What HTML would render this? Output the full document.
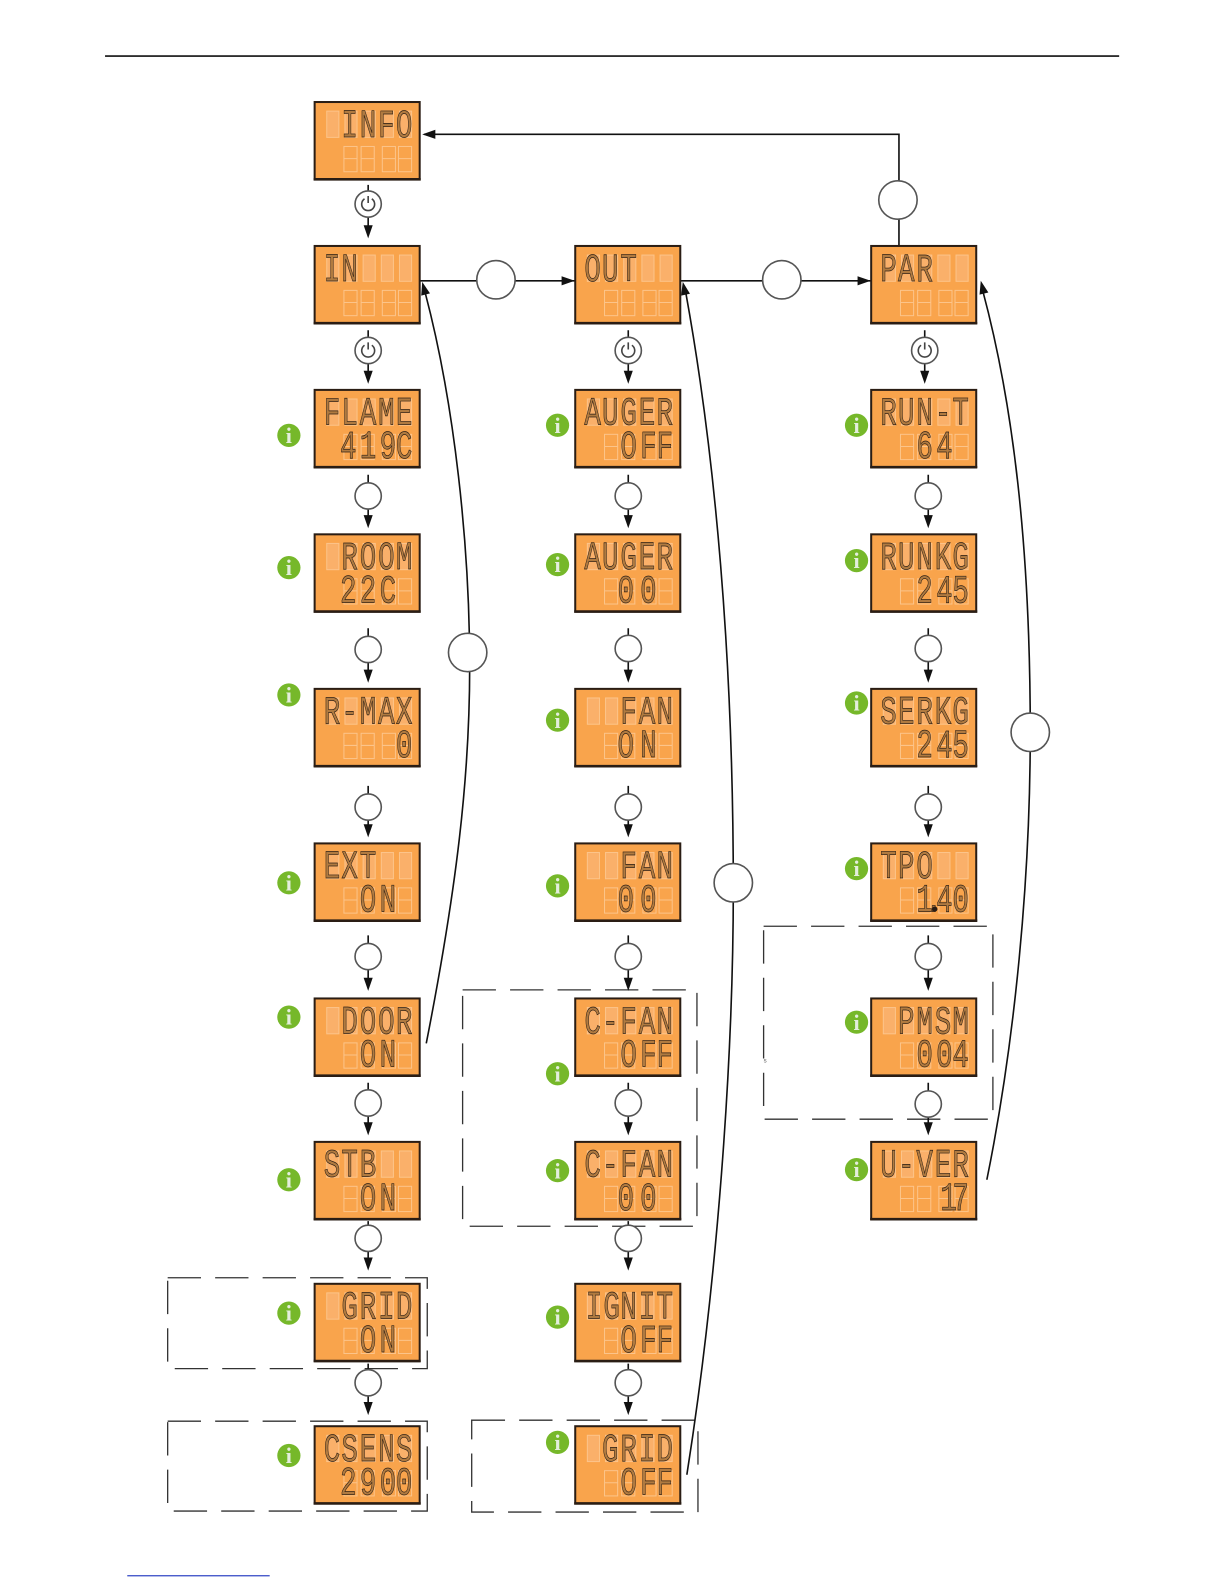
<!DOCTYPE html>
<html><head><meta charset="utf-8"><style>
html,body{margin:0;padding:0;background:#fff;width:1224px;height:1584px;overflow:hidden}
svg{display:block}
.t{font-family:"Liberation Mono",monospace;font-size:39px;fill:#b07a40;stroke:#2a1d14;stroke-width:.7;text-anchor:middle;transform:translate(-1px,-.5px) scale(.7,1)}
.i{font-family:"Liberation Serif",serif;font-size:22px;font-weight:bold;fill:#e4eedd;text-anchor:middle}
.s{font-family:"Liberation Sans",sans-serif;font-size:6px;fill:#555}
</style></head><body>
<svg width="1224" height="1584" viewBox="0 0 1211.8 1568.2" xmlns="http://www.w3.org/2000/svg">
<defs>
<g id="d">
<rect x="0" y="0" width="104" height="76.5" fill="#f9a44c" stroke="#2a1d14" stroke-width="2"/>
<path d="M-1 76.5H105" stroke="#2a1d14" stroke-width="2.6"/>
<g fill="#fab06a" stroke="#fcc48a" stroke-width="1">
<rect x="12" y="9" width="12" height="26"/><rect x="30" y="9" width="12" height="26"/><rect x="48" y="9" width="12" height="26"/><rect x="66" y="9" width="12" height="26"/><rect x="84" y="9" width="12" height="26"/>
</g>
<g fill="none" stroke="#fcc48a" stroke-width="1">
<rect x="29" y="44" width="13" height="25"/><rect x="46" y="44" width="13" height="25"/><rect x="67" y="44" width="13" height="25"/><rect x="83" y="44" width="13" height="25"/>
<path d="M29 56h13M46 56h13M67 56h13M83 56h13"/>
</g>
</g>
<path id="a" d="M-4.5 -13H4.5L0 0z" fill="#111"/>
<g id="c"><circle r="13" fill="#fff" stroke="#555" stroke-width="1.6"/></g>
<g id="p"><circle r="13" fill="#fff" stroke="#555" stroke-width="1.6"/><path d="M-3.6 -5.2A6.4 6.4 0 1 0 3.6 -5.2M0 -8V-1" fill="none" stroke="#444" stroke-width="1.6"/></g>
<g id="b"><circle r="19" fill="#fff" stroke="#555" stroke-width="1.6"/></g>
<g id="n"><circle r="11.5" fill="#76b82a"/><text class="i" y="7.5">i</text></g>
</defs>

<path d="M104 55.5H1108" stroke="#111" stroke-width="1.6"/>
<path d="M126 1560H267" stroke="#3347c4" stroke-width="1.2"/>

<g fill="none" stroke="#333" stroke-width="1.3" stroke-dasharray="33 14">
<rect x="166" y="1265" width="257" height="90"/>
<rect x="166" y="1407" width="257" height="89"/>
<rect x="458" y="980" width="232" height="234"/>
<rect x="467" y="1406" width="224" height="91"/>
<rect x="756" y="917" width="227" height="191"/>
</g>
<text class="s" x="756" y="1052">s</text>

<g fill="none" stroke="#111" stroke-width="1.6">
<path d="M416 278H569M674 278H862M890 243V133H420"/>
<path d="M364.5 183V226M364.5 327V370M364.5 470V513M364.5 622V666M364.5 778V819M364.5 926V971M364.5 1072V1114M364.5 1209V1248M364.5 1350V1390"/>
<path d="M622 327V370M622 470V513M622 622V666M622 778V819M622 926V971M622 1072V1114M622 1209V1248M622 1350V1390"/>
<path d="M915.5 327V370M919 470V513M919 622V666M919 778V819M919 926V971M919 1072V1114"/>
<path d="M422 1033C452 880 465 770 465 660C465 540 450 400 421 290"/>
<path d="M680 1460C710 1270 726 1050 726 880C726 650 708 450 679 290"/>
<path d="M977 1168C1005 1030 1020 870 1020 725C1020 540 1003 400 973 288"/>
</g>

<use href="#a" transform="translate(364.5 236)"/><use href="#a" transform="translate(364.5 380)"/><use href="#a" transform="translate(364.5 523)"/><use href="#a" transform="translate(364.5 676)"/><use href="#a" transform="translate(364.5 829)"/><use href="#a" transform="translate(364.5 981)"/><use href="#a" transform="translate(364.5 1124)"/><use href="#a" transform="translate(364.5 1258)"/><use href="#a" transform="translate(364.5 1401)"/>
<use href="#a" transform="translate(622 380)"/><use href="#a" transform="translate(622 523)"/><use href="#a" transform="translate(622 676)"/><use href="#a" transform="translate(622 829)"/><use href="#a" transform="translate(622 981)"/><use href="#a" transform="translate(622 1124)"/><use href="#a" transform="translate(622 1258)"/><use href="#a" transform="translate(622 1401)"/>
<use href="#a" transform="translate(915.5 380)"/><use href="#a" transform="translate(919 523)"/><use href="#a" transform="translate(919 676)"/><use href="#a" transform="translate(919 829)"/><use href="#a" transform="translate(919 981)"/><use href="#a" transform="translate(919 1124)"/>
<use href="#a" transform="translate(569 278) rotate(-90)"/><use href="#a" transform="translate(862 278) rotate(-90)"/><use href="#a" transform="translate(418 133) rotate(90)"/>
<use href="#a" transform="translate(418 279) rotate(165)"/><use href="#a" transform="translate(676 279) rotate(168)"/><use href="#a" transform="translate(971 278) rotate(166)"/>

<use href="#p" x="364.5" y="202"/><use href="#p" x="364.5" y="347"/><use href="#p" x="622" y="347"/><use href="#p" x="915.5" y="347"/>
<use href="#c" x="364.5" y="491"/><use href="#c" x="364.5" y="643"/><use href="#c" x="364.5" y="799"/><use href="#c" x="364.5" y="947"/><use href="#c" x="364.5" y="1092"/><use href="#c" x="364.5" y="1226"/><use href="#c" x="364.5" y="1369"/>
<use href="#c" x="622" y="491"/><use href="#c" x="622" y="642"/><use href="#c" x="622" y="799"/><use href="#c" x="622" y="947"/><use href="#c" x="622" y="1092"/><use href="#c" x="622" y="1226"/><use href="#c" x="622" y="1369"/>
<use href="#c" x="919" y="491"/><use href="#c" x="919" y="642"/><use href="#c" x="919" y="799"/><use href="#c" x="919" y="947"/><use href="#c" x="919" y="1093"/>
<use href="#b" x="491" y="277"/><use href="#b" x="774" y="277"/><use href="#b" x="889" y="198"/><use href="#b" x="463" y="646"/><use href="#b" x="726" y="874"/><use href="#b" x="1020" y="725"/>

<use href="#n" x="286" y="431"/><use href="#n" x="286" y="562"/><use href="#n" x="286" y="688"/><use href="#n" x="286" y="874"/><use href="#n" x="286" y="1007"/><use href="#n" x="286" y="1168"/><use href="#n" x="286" y="1300"/><use href="#n" x="286" y="1441"/>
<use href="#n" x="552" y="421"/><use href="#n" x="552" y="559"/><use href="#n" x="552" y="713"/><use href="#n" x="552" y="877"/><use href="#n" x="552" y="1063"/><use href="#n" x="552" y="1159"/><use href="#n" x="552" y="1304"/><use href="#n" x="552" y="1428"/>
<use href="#n" x="848" y="421"/><use href="#n" x="848" y="555"/><use href="#n" x="848" y="696"/><use href="#n" x="848" y="860"/><use href="#n" x="848" y="1012"/><use href="#n" x="848" y="1158"/>

<!-- column 1 -->
<g transform="translate(311.5 101)"><use href="#d"/><text class="t" y="35" x="51 77 103 128">INFO</text></g>
<g transform="translate(311.5 243.5)"><use href="#d"/><text class="t" y="35" x="26 51">IN</text></g>
<g transform="translate(311.5 386)"><use href="#d"/><text class="t" y="35" x="26 51 77 103 128">FLAME</text><text class="t" y="68" x="49 77 105 128">419C</text></g>
<g transform="translate(311.5 529)"><use href="#d"/><text class="t" y="35" x="51 77 103 128">ROOM</text><text class="t" y="68" x="49 77 105">22C</text></g>
<g transform="translate(311.5 682)"><use href="#d"/><text class="t" y="35" x="26 51 77 103 128">R-MAX</text><text class="t" y="68" x="128">0</text></g>
<g transform="translate(311.5 835)"><use href="#d"/><text class="t" y="35" x="26 51 77">EXT</text><text class="t" y="68" x="77 105">ON</text></g>
<g transform="translate(311.5 988.5)"><use href="#d"/><text class="t" y="35" x="51 77 103 128">DOOR</text><text class="t" y="68" x="77 105">ON</text></g>
<g transform="translate(311.5 1130.5)"><use href="#d"/><text class="t" y="35" x="26 51 77">STB</text><text class="t" y="68" x="77 105">ON</text></g>
<g transform="translate(311.5 1271)"><use href="#d"/><text class="t" y="35" x="51 77 103 128">GRID</text><text class="t" y="68" x="77 105">ON</text></g>
<g transform="translate(311.5 1412)"><use href="#d"/><text class="t" y="35" x="26 51 77 103 128">CSENS</text><text class="t" y="68" x="49 77 105 128">2900</text></g>

<!-- column 2 -->
<g transform="translate(569.5 243.5)"><use href="#d"/><text class="t" y="35" x="26 51 77">OUT</text></g>
<g transform="translate(569.5 386)"><use href="#d"/><text class="t" y="35" x="26 51 77 103 128">AUGER</text><text class="t" y="68" x="77 105 128">OFF</text></g>
<g transform="translate(569.5 529)"><use href="#d"/><text class="t" y="35" x="26 51 77 103 128">AUGER</text><text class="t" y="68" x="73 105">00</text></g>
<g transform="translate(569.5 682)"><use href="#d"/><text class="t" y="35" x="77 103 128">FAN</text><text class="t" y="68" x="73 105">ON</text></g>
<g transform="translate(569.5 835)"><use href="#d"/><text class="t" y="35" x="77 103 128">FAN</text><text class="t" y="68" x="73 105">00</text></g>
<g transform="translate(569.5 988.5)"><use href="#d"/><text class="t" y="35" x="26 51 77 103 128">C-FAN</text><text class="t" y="68" x="77 105 128">OFF</text></g>
<g transform="translate(569.5 1130.5)"><use href="#d"/><text class="t" y="35" x="26 51 77 103 128">C-FAN</text><text class="t" y="68" x="73 105">00</text></g>
<g transform="translate(569.5 1271)"><use href="#d"/><text class="t" y="35" x="28 53 77 103 128">IGNIT</text><text class="t" y="68" x="77 105 128">OFF</text></g>
<g transform="translate(569.5 1412)"><use href="#d"/><text class="t" y="35" x="51 77 103 128">GRID</text><text class="t" y="68" x="77 105 128">OFF</text></g>

<!-- column 3 -->
<g transform="translate(862.5 243.5)"><use href="#d"/><text class="t" y="35" x="26 51 77">PAR</text></g>
<g transform="translate(862.5 386)"><use href="#d"/><text class="t" y="35" x="26 51 77 103 128">RUN-T</text><text class="t" y="68" x="77 105">64</text></g>
<g transform="translate(862.5 529)"><use href="#d"/><text class="t" y="35" x="26 51 77 103 128">RUNKG</text><text class="t" y="68" x="77 105 128">245</text></g>
<g transform="translate(862.5 682)"><use href="#d"/><text class="t" y="35" x="26 51 77 103 128">SERKG</text><text class="t" y="68" x="77 105 128">245</text></g>
<g transform="translate(862.5 835)"><use href="#d"/><text class="t" y="35" x="26 51 77">TPO</text><text class="t" y="68" x="77 90 105 128">1.40</text><circle cx="63" cy="65" r="2.6" fill="#2a1d14"/></g>
<g transform="translate(862.5 988.5)"><use href="#d"/><text class="t" y="35" x="51 77 103 128">PMSM</text><text class="t" y="68" x="77 105 128">004</text></g>
<g transform="translate(862.5 1130.5)"><use href="#d"/><text class="t" y="35" x="26 51 77 103 128">U-VER</text><text class="t" y="68" x="111 128">17</text></g>
</svg>
</body></html>
